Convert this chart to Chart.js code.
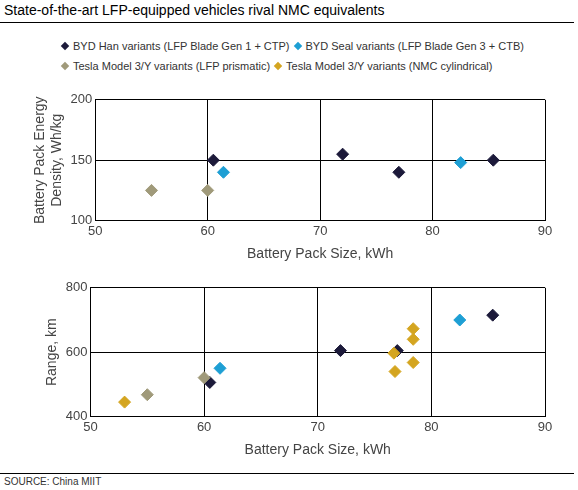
<!DOCTYPE html>
<html><head><meta charset="utf-8">
<script src="https://cdn.jsdelivr.net/npm/chart.js@4"></script>
<style>
body{margin:0;width:578px;height:490px;background:#fff;font-family:"Liberation Sans",Arial,sans-serif;position:relative;overflow:hidden}
#title{position:absolute;left:4px;top:2px;font-size:14px;color:#000}
.rule{position:absolute;left:0;width:574px;border-top:1px solid #000}
#legend{position:absolute;left:62px;top:36px;font-size:11px;font-family:"Liberation Sans Narrow","Liberation Sans",sans-serif;color:#333;line-height:20px}
#legend span{display:inline-block;margin-right:5px}
#legend i{display:inline-block;width:6px;height:6px;transform:rotate(45deg);margin-right:5px;vertical-align:1px}
#src{position:absolute;left:4px;top:476px;font-size:10px;color:#333}
.c{position:absolute;left:0}
</style></head><body>
<div id="title">State-of-the-art LFP-equipped vehicles rival NMC equivalents</div>
<div class="rule" style="top:22px"></div>
<div id="legend">
<span><i style="background:#1c1a3a"></i>BYD Han variants (LFP Blade Gen 1 + CTP)</span><span><i style="background:#1e9fd4"></i>BYD Seal variants (LFP Blade Gen 3 + CTB)</span><br>
<span><i style="background:#a09a7a"></i>Tesla Model 3/Y variants (LFP prismatic)</span><span><i style="background:#d4a520"></i>Tesla Model 3/Y variants (NMC cylindrical)</span>
</div>
<div class="c" style="top:89px;width:578px;height:178px"><canvas id="c1"></canvas></div>
<div class="c" style="top:277px;width:578px;height:186px"><canvas id="c2"></canvas></div>
<div class="rule" style="top:473px"></div>
<div id="src">SOURCE: China MIIT</div>
<script>
const seriesNames = ['BYD Han variants (LFP Blade Gen 1 + CTP)','BYD Seal variants (LFP Blade Gen 3 + CTB)','Tesla Model 3/Y variants (LFP prismatic)','Tesla Model 3/Y variants (NMC cylindrical)'];
const colors = ['#1c1a3a','#1e9fd4','#a09a7a','#d4a520'];
// pack size kWh
const hanSize = [60.5, 72, 77, 85.4];
const sealSize = [61.4, 82.5];
const teslaLfpSize = [55, 60];
const teslaNmcSize = [53, 76.7, 76.8, 78.4, 78.4, 78.4];
// energy density Wh/kg
const hanDensity = [150, 155, 140, 150];
const sealDensity = [140, 148];
const teslaLfpDensity = [125, 125];
// range km
const hanRange = [506, 605, 605, 715];
const sealRange = [550, 700];
const teslaLfpRange = [468, 521];
const teslaNmcRange = [445, 597, 540, 673, 640, 568];

const pts = (xs, ys) => xs.map((x, i) => ({x, y: ys[i]}));
const ds = (i, data) => ({label: seriesNames[i], data, backgroundColor: colors[i], borderColor: colors[i], pointStyle: 'rectRot', pointRadius: 6, pointHoverRadius: 6});
const font = {family: '"Liberation Sans", Arial, sans-serif', size: 13};

function make(id, datasets, ymin, ymax, ystep, ytitle, padLeft) {
  new Chart(document.getElementById(id), {
    type: 'scatter',
    data: {datasets},
    options: {
      responsive: true, maintainAspectRatio: false, animation: false,
      layout: {padding: {left: padLeft, right: 33, top: 4, bottom: 0}},
      plugins: {legend: {display: false}, tooltip: {enabled: false}},
      scales: {
        x: {min: 50, max: 90, ticks: {stepSize: 10, color: '#444', font}, grid: {color: '#000', drawTicks: false}, border: {color: '#000'},
            title: {display: true, text: 'Battery Pack Size, kWh', color: '#444', font: {...font, size: 14}}},
        y: {min: ymin, max: ymax, ticks: {stepSize: ystep, color: '#444', font}, grid: {color: '#000', drawTicks: false}, border: {color: '#000'},
            title: {display: true, text: ytitle, color: '#444', font: {...font, size: 14}, padding: 2}}
      }
    }
  });
}
make('c1', [ds(0, pts(hanSize, hanDensity)), ds(1, pts(sealSize, sealDensity)), ds(2, pts(teslaLfpSize, teslaLfpDensity))], 100, 200, 50, ['Battery Pack Energy', 'Density, Wh/kg'], 30);
make('c2', [ds(2, pts(teslaLfpSize, teslaLfpRange)), ds(3, pts(teslaNmcSize, teslaNmcRange)), ds(1, pts(sealSize, sealRange)), ds(0, pts(hanSize, hanRange))], 400, 800, 200, 'Range, km', 42);
</script>
</body></html>
